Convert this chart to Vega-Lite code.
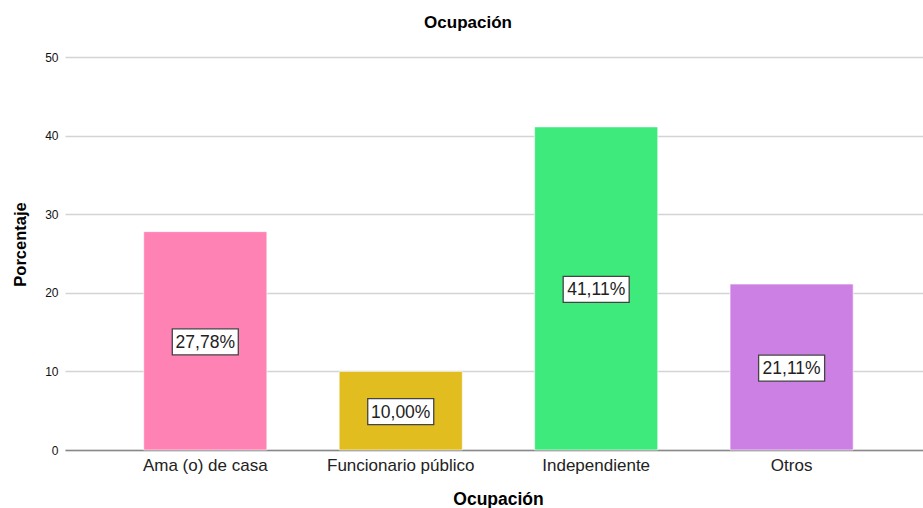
{
  "$schema": "https://vega.github.io/schema/vega-lite/v6.json",
  "width": 858,
  "height": 393,
  "autosize": {"type": "none"},
  "padding": {"left": 65, "top": 57, "right": 0, "bottom": 58},
  "background": "white",
  "title": {
    "text": "Ocupación",
    "font": "Liberation Sans",
    "fontSize": 17,
    "fontWeight": "bold",
    "color": "#000000",
    "anchor": "middle",
    "dx": -26,
    "offset": 19
  },
  "data": {
    "values": [
      {"ocupacion": "Ama (o) de casa", "porcentaje": 27.78},
      {"ocupacion": "Funcionario público", "porcentaje": 10.00},
      {"ocupacion": "Independiente", "porcentaje": 41.11},
      {"ocupacion": "Otros", "porcentaje": 21.11}
    ]
  },
  "transform": [
    {"calculate": "datum.porcentaje / 2", "as": "medio"},
    {"calculate": "replace(format(datum.porcentaje, '.2f'), '.', ',') + '%'", "as": "etiqueta"}
  ],
  "encoding": {
    "x": {
      "field": "ocupacion",
      "type": "nominal",
      "sort": null,
      "scale": {"paddingInner": 0.37, "paddingOuter": 0.38, "align": 0.53},
      "axis": {
        "title": "Ocupación",
        "titleFont": "Liberation Sans",
        "titleFontSize": 17.5,
        "titleFontWeight": "bold",
        "titleColor": "#000000",
        "titlePadding": 17,
        "titleX": 433,
        "labelFont": "Liberation Sans",
        "labelFontSize": 17,
        "labelColor": "#222222",
        "labelAngle": 0,
        "labelPadding": 7,
        "ticks": false,
        "domainColor": "#888888",
        "domainWidth": 1.5
      }
    }
  },
  "layer": [
    {
      "mark": {"type": "bar", "stroke": "#ffffff", "strokeWidth": 1, "strokeOpacity": 0.6},
      "encoding": {
        "y": {
          "field": "porcentaje",
          "type": "quantitative",
          "scale": {"domain": [0, 50], "nice": false},
          "axis": {
            "title": "Porcentaje",
            "titleFont": "Liberation Sans",
            "titleFontSize": 16.5,
            "titleFontWeight": "bold",
            "titleColor": "#000000",
            "titlePadding": 16,
            "titleY": 187,
            "values": [0, 10, 20, 30, 40, 50],
            "labelFont": "Liberation Sans",
            "labelFontSize": 12,
            "labelColor": "#111111",
            "labelPadding": 7,
            "ticks": false,
            "domain": false,
            "grid": true,
            "gridColor": "#d4d4d4",
            "gridWidth": 1.3
          }
        },
        "color": {
          "field": "ocupacion",
          "type": "nominal",
          "sort": null,
          "scale": {
            "domain": ["Ama (o) de casa", "Funcionario público", "Independiente", "Otros"],
            "range": ["#ff82b4", "#e1bd1f", "#3fea7d", "#cc80e4"]
          },
          "legend": null
        }
      }
    },
    {
      "mark": {
        "type": "point",
        "shape": "M-1,-0.394L1,-0.394L1,0.394L-1,0.394Z",
        "size": 4356,
        "filled": true,
        "fill": "#ffffff",
        "fillOpacity": 1,
        "stroke": "#444444",
        "strokeWidth": 1.3,
        "opacity": 1,
        "yOffset": 1
      },
      "encoding": {
        "y": {"field": "medio", "type": "quantitative"}
      }
    },
    {
      "mark": {
        "type": "text",
        "font": "Liberation Sans",
        "fontSize": 17.5,
        "color": "#222222",
        "baseline": "middle",
        "dy": 2
      },
      "encoding": {
        "y": {"field": "medio", "type": "quantitative"},
        "text": {"field": "etiqueta", "type": "nominal"}
      }
    }
  ],
  "config": {
    "view": {"stroke": null}
  }
}
